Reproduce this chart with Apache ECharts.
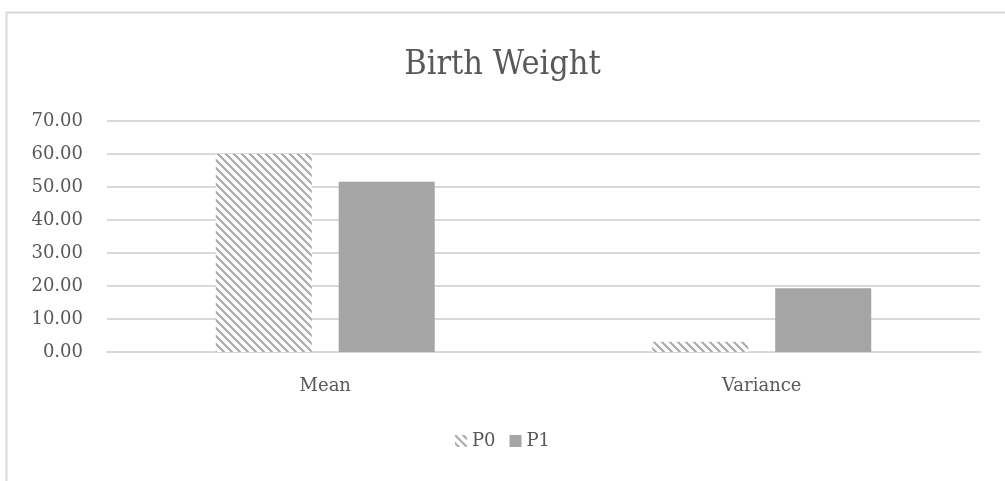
<!DOCTYPE html>
<html><head><meta charset="utf-8">
<script src="https://cdn.jsdelivr.net/npm/echarts@6/dist/echarts.min.js"></script>
<style>html,body{margin:0;padding:0;background:#fff}#c{width:1005px;height:481px}</style>
</head><body><div id="c"></div>
<script>
const categories = ['Mean', 'Variance'];
const seriesNames = ['P0', 'P1'];
const p0Values = [60.1, 3.1];
const p1Values = [51.6, 19.3];
const yTicks = [0, 10, 20, 30, 40, 50, 60, 70];

function stripeCanvas() {
  const c = document.createElement('canvas');
  c.width = 8; c.height = 8;
  const g = c.getContext('2d');
  g.fillStyle = '#ffffff'; g.fillRect(0, 0, 8, 8);
  g.strokeStyle = '#aaaaaa'; g.lineWidth = 2.1;
  g.beginPath();
  g.moveTo(-2, -2); g.lineTo(10, 10);
  g.moveTo(-10, -2); g.lineTo(2, 10);
  g.moveTo(6, -2); g.lineTo(18, 10);
  g.stroke();
  return c;
}
const stripe = { image: stripeCanvas(), repeat: 'repeat' };
const fontFam = 'DejaVu Serif';
const chart = echarts.init(document.getElementById('c'));
chart.setOption({
  animation: false,
  backgroundColor: '#fff',
  graphic: [{ type: 'rect', left: 4, top: 10, shape: { width: 1020, height: 490 }, style: { fill: 'none', stroke: '#d9d9d9', lineWidth: 2 }, silent: true }],
  title: { text: 'Birth Weight', left: 'center', top: 43, textStyle: { fontFamily: 'DejaVu Serif Condensed', fontWeight: 'normal', fontSize: 34, color: '#595959' } },
  grid: { left: 107, right: 25, top: 121, bottom: 129 },
  legend: {
    data: seriesNames, bottom: 26, left: 'center', itemWidth: 12, itemHeight: 12, itemGap: 14,
    textStyle: { fontFamily: fontFam, fontSize: 18, color: '#595959' }, icon: 'rect'
  },
  xAxis: {
    type: 'category', data: categories,
    axisLine: { lineStyle: { color: '#d9d9d9', width: 2 } }, axisTick: { show: false },
    axisLabel: { fontFamily: fontFam, fontSize: 18, color: '#595959', margin: 25 }
  },
  yAxis: {
    type: 'value', min: yTicks[0], max: yTicks[yTicks.length - 1], interval: 10,
    axisLine: { show: false }, axisTick: { show: false },
    splitLine: { lineStyle: { color: '#d9d9d9', width: 2 } },
    axisLabel: { fontFamily: fontFam, fontSize: 18, color: '#595959', margin: 24, formatter: v => v.toFixed(2) }
  },
  series: [
    { name: seriesNames[0], type: 'bar', data: p0Values, barWidth: '22%', barGap: '28%', itemStyle: { color: stripe } },
    { name: seriesNames[1], type: 'bar', data: p1Values, barWidth: '22%', barGap: '28%', itemStyle: { color: '#a5a5a5' } }
  ]
});
</script></body></html>
